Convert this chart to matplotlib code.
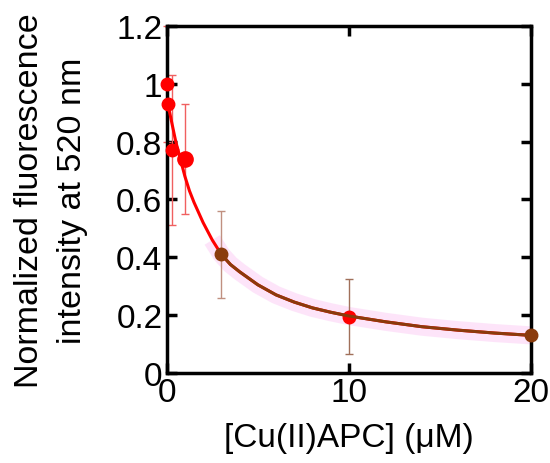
import matplotlib
matplotlib.use("Agg")
import matplotlib.pyplot as plt
from matplotlib.ticker import FuncFormatter

plt.rcParams['font.family'] = ['Liberation Sans', 'DejaVu Sans']

# measured points
red_x = [0.0, 0.1, 0.3, 1.0]
red_y = [1.0, 0.93, 0.77, 0.74]
red_err = [0.2, 0.0, 0.26, 0.19]
red_ms = [9, 9, 9, 11]

mid_x = [10.0]
mid_y = [0.195]
mid_err = [0.13]

brown_x = [3.0, 20.0]
brown_y = [0.41, 0.13]
brown_err = [0.15, 0.0]

# fitted curve
curve_x = [0.1, 0.2, 0.3, 0.5, 0.75, 1.0, 1.25, 1.5, 2.0, 2.5, 3.0, 3.5, 4.0, 5.0, 6.0, 7.0, 8.0,
           9.0, 10.0, 12.0, 14.0, 16.0, 18.0, 20.0]
curve_y = [0.92, 0.89, 0.86, 0.80, 0.74, 0.68, 0.63, 0.59, 0.52, 0.46, 0.41, 0.375, 0.35, 0.305,
           0.27, 0.245, 0.225, 0.21, 0.197, 0.177, 0.16, 0.148, 0.138, 0.13]
brown_from = 2.6

RED = '#ff0000'
BROWN = '#8a3b0c'

fig = plt.figure(figsize=(5.5, 4.64), dpi=100)
ax = fig.add_axes([0.303, 0.194, 0.663, 0.748])

# pink halo
hx = [x for x in curve_x if x >= 2.3]
hy = [y for x, y in zip(curve_x, curve_y) if x >= 2.3]
ax.plot(hx, hy, color='#fde2f9', lw=13, alpha=0.9, solid_capstyle='butt', zorder=1, clip_on=False)

# error bars
ax.errorbar(red_x, red_y, yerr=red_err, fmt='none', ecolor='#f06060', elinewidth=1, capsize=3, capthick=1, zorder=2, clip_on=False)
ax.errorbar(mid_x, mid_y, yerr=mid_err, fmt='none', ecolor='#a0705a', elinewidth=1, capsize=3, capthick=1, zorder=2)
ax.errorbar(brown_x, brown_y, yerr=brown_err, fmt='none', ecolor='#c09080', elinewidth=1, capsize=3, capthick=1, zorder=2)

# fitted curves
ax.plot(curve_x, curve_y, color=RED, lw=2.2, zorder=3)
for x, y, ms in zip(red_x, red_y, red_ms):
    ax.plot([x], [y], 'o', color=RED, ms=ms, zorder=6, clip_on=False)
ax.plot(mid_x, mid_y, 'o', color=RED, ms=9, zorder=4)
bx = [x for x in curve_x if x >= brown_from]
by = [y for x, y in zip(curve_x, curve_y) if x >= brown_from]
ax.plot(bx, by, color=BROWN, lw=2.2, zorder=5)
ax.plot(brown_x, brown_y, 'o', color=BROWN, ms=9, zorder=6, clip_on=False)

ax.set_xlim(0, 20)
ax.set_ylim(0, 1.2)
ax.set_xticks([0, 10, 20])
ax.set_yticks([0, 0.2, 0.4, 0.6, 0.8, 1.0, 1.2])
ax.yaxis.set_major_formatter(FuncFormatter(lambda v, p: ('%g' % round(v, 2))))
ax.tick_params(direction='in', length=7, width=2.5, labelsize=24, top=True, right=True, pad=3)
for s in ax.spines.values():
    s.set_linewidth(2.5)

ax.set_xlabel('[Cu(II)APC] (μM)', fontsize=24, labelpad=10)
ax.set_ylabel('Normalized fluorescence\nintensity at 520 nm', fontsize=24.5, labelpad=20, linespacing=1.5)

fig.savefig('out.png', dpi=100)
